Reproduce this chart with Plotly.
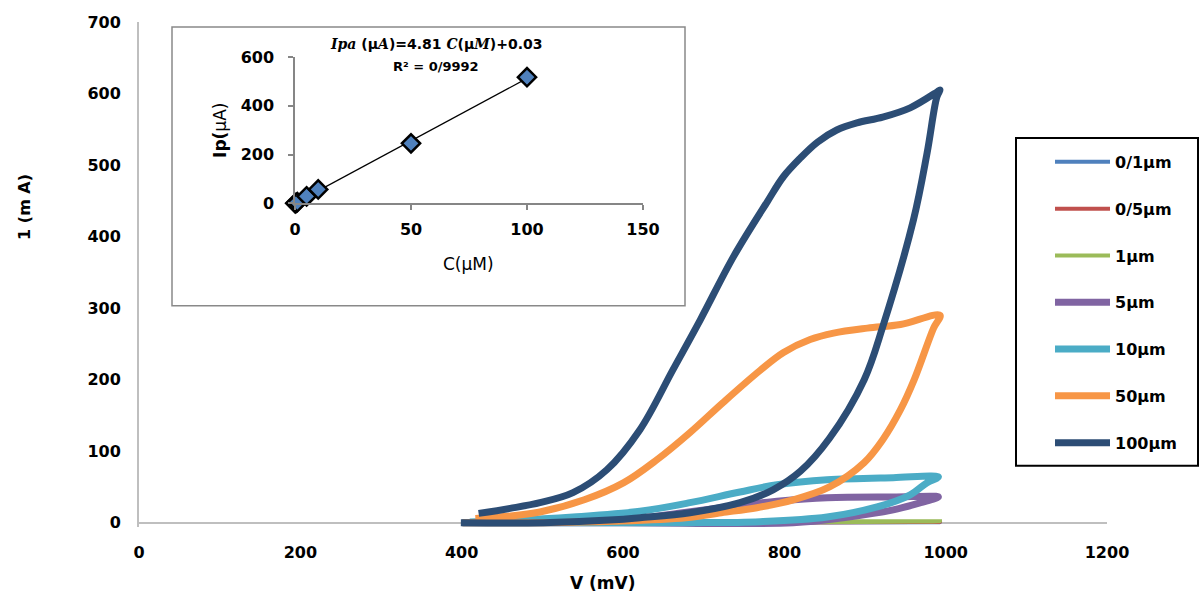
import plotly.graph_objects as go
import numpy as np

# ---------------- data ----------------
series_names = ["0/1µm", "0/5µm", "1µm", "5µm", "10µm", "50µm", "100µm"]
series_colors = ["#4F81BD", "#C0504D", "#9BBB59", "#8064A2", "#4BACC6", "#F79646", "#2C4D75"]
series_widths = [4, 4, 4, 7, 7, 7, 7]

v_01 = [401, 700, 993, 700, 420]
i_01 = [0, 0.1, 0.5, 0.3, 0.1]

v_05 = [401, 700, 993, 700, 420]
i_05 = [0, 0.3, 1.0, 0.7, 0.2]

v_1 = [401, 700, 900, 993, 800, 600, 420]
i_1 = [0, 0.3, 1.0, 2.0, 1.8, 1.0, 0.4]

v_5 = [401, 600, 811, 873, 935, 969, 991, 935, 853, 791, 729, 667, 605, 520, 420]
i_5 = [0, 0, 0, 7, 18, 28, 36, 36, 35, 30, 22, 13, 4, 1, 0]

v_10 = [401, 501, 600, 687, 770, 853, 915, 956, 977, 991,
        935, 853, 791, 745, 683, 621, 538, 460, 410]
i_10 = [0, 0, 0, 0, 1.5, 8, 22, 39, 56, 64,
        63, 60, 53, 43, 28, 16, 8, 3, 1]

v_50 = [401, 501, 589, 678, 722, 766, 811, 856, 899, 922, 944, 961, 985, 993,
        944, 903, 861, 832, 799, 770, 724, 683, 642, 601, 552, 497, 456, 417]
i_50 = [0, 0, 2, 7, 14, 21, 32, 50, 84, 116, 158, 200, 272, 290,
        277, 272, 265, 256, 238, 213, 168, 126, 88, 56, 32, 15, 9, 6]

v_100 = [399, 501, 589, 621, 683, 745, 786, 820, 856, 899, 922, 960, 977, 989, 993,
         989, 956, 922, 890, 865, 841, 820, 799, 779, 737, 696, 662, 621, 580, 538, 497, 460, 421]
i_100 = [0, 0, 4, 7, 14, 28, 46, 72, 118, 200, 274, 423, 517, 595, 605,
         602, 580, 567, 559, 549, 532, 510, 484, 449, 372, 284, 214, 130, 74, 42, 28, 20, 13]

series_v = [v_01, v_05, v_1, v_5, v_10, v_50, v_100]
series_i = [i_01, i_05, i_1, i_5, i_10, i_50, i_100]

# inset calibration data
conc_uM = [0.1, 0.5, 1, 5, 10, 50, 100]
ip_uA = [0.5, 2.4, 4.8, 29, 57, 246, 517]

main_xticks = [0, 200, 400, 600, 800, 1000, 1200]
main_yticks = [0, 100, 200, 300, 400, 500, 600, 700]
inset_xticks = [0, 50, 100, 150]
inset_yticks = [0, 200, 400, 600]

# ---------------- layout geometry ----------------
W, H = 1203, 596
L, R_edge = 139, 1107
T, B_edge = 22, 527.3
PW, PH = R_edge - L, B_edge - T


def px(x):
    return (x - L) / PW


def py(y):
    return (B_edge - y) / PH


FONT = "DejaVu Sans"

fig = go.Figure()

for name, col, w, vx, iy in zip(series_names, series_colors, series_widths, series_v, series_i):
    fig.add_trace(go.Scatter(
        x=vx, y=iy, mode="lines", name=name, legendgroup=name,
        line=dict(color=col, width=w, shape="spline", smoothing=1.0),
        xaxis="x", yaxis="y",
    ))

# inset trend line (least squares over the points)
coef = np.polyfit(conc_uM, ip_uA, 1)
tx = [min(conc_uM), max(conc_uM)]
ty = [coef[0] * t + coef[1] for t in tx]
fig.add_trace(go.Scatter(x=tx, y=ty, mode="lines", line=dict(color="black", width=1.2),
                         xaxis="x2", yaxis="y2", showlegend=False, hoverinfo="skip"))
fig.add_trace(go.Scatter(x=conc_uM, y=ip_uA, mode="markers",
                         marker=dict(symbol="diamond", size=14, color="#4F81BD",
                                     line=dict(color="black", width=2.5)),
                         xaxis="x2", yaxis="y2", showlegend=False, cliponaxis=False))

bold_tick = dict(family=FONT, size=16, color="black", weight="bold")
inset_tick = dict(family=FONT, size=16, color="black", weight="bold")

fig.update_layout(
    width=W, height=H,
    margin=dict(l=L, r=W - R_edge, t=T, b=H - B_edge, pad=0),
    paper_bgcolor="white", plot_bgcolor="white",
    showlegend=True,
    legend=dict(
        x=px(1050), y=py(145), xanchor="left", yanchor="top",
        borderwidth=0, bgcolor="rgba(0,0,0,0)",
        font=dict(family=FONT, size=16, color="black", weight="bold"),
        itemwidth=55, tracegroupgap=23,
    ),
    xaxis=dict(range=[0, 1200], tickvals=main_xticks, showgrid=False, zeroline=False,
               showline=False, ticks="", tickfont=bold_tick, ticklabelstandoff=14,
               domain=[0, 1]),
    yaxis=dict(range=[-6, 700], tickvals=main_yticks, showgrid=False, zeroline=True,
               zerolinecolor="#BFBFBF", zerolinewidth=2,
               showline=True, linecolor="#BFBFBF", linewidth=2, ticks="",
               tickfont=bold_tick, ticklabelstandoff=13, domain=[0, 1]),
    xaxis2=dict(range=[0, 150], tickvals=inset_xticks, anchor="y2",
                domain=[px(295), px(643)], showgrid=False, zeroline=False,
                showline=True, linecolor="#868686", linewidth=1.5,
                ticks="outside", ticklen=5, tickcolor="#868686", tickwidth=1.5,
                tickfont=inset_tick, ticklabelstandoff=6),
    yaxis2=dict(range=[0, 600], tickvals=inset_yticks, anchor="x2",
                domain=[py(203.5), py(57)], showgrid=False, zeroline=False,
                showline=True, linecolor="#868686", linewidth=1.5,
                ticks="outside", ticklen=5, tickcolor="#868686", tickwidth=1.5,
                tickfont=inset_tick, ticklabelstandoff=11),
    shapes=[
        dict(type="rect", xref="paper", yref="paper",
             x0=px(172), x1=px(685), y0=py(306), y1=py(27),
             line=dict(color="#898989", width=1.5), layer="below"),
        dict(type="rect", xref="paper", yref="paper",
             x0=px(1016), x1=px(1198), y0=py(466), y1=py(138),
             line=dict(color="black", width=2), layer="above"),
    ],
)


def note(text, x, y, size, angle=0):
    return dict(text=text, x=px(x), y=py(y), xref="paper", yref="paper",
                xanchor="center", yanchor="middle", showarrow=False, textangle=angle,
                font=dict(family=FONT, size=size, color="black"))


eq = ('<b><span style="font-family:DejaVu Serif"><i>Ipa</i></span> (µ'
      '<span style="font-family:DejaVu Serif"><i>A</i></span>)=4.81 '
      '<span style="font-family:DejaVu Serif"><i>C</i></span>(µ'
      '<span style="font-family:DejaVu Serif"><i>M</i></span>)+0.03</b>')
ann = [
    note("<b>V (mV)</b>", 603, 583, 17),
    note("<b>1 (m A)</b>", 25, 207, 16, -90),
    note("<b>Ip(</b>µA)", 220, 131, 17, -90),
    note("C(µM)", 468, 264, 17),
    note(eq, 436, 44, 14),
    note("<b>R² = 0/9992</b>", 436, 67, 13),
]
fig.update_layout(annotations=ann)

fig.write_html("out.html", config={"displayModeBar": False},
               post_script="document.body.style.margin='0';")
